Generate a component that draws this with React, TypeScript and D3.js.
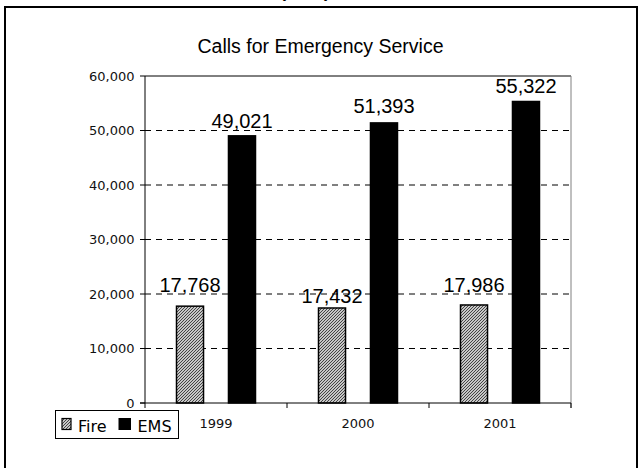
import React from "react";
import * as d3 from "d3";

const years = ["1999", "2000", "2001"];
const seriesNames = ["Fire", "EMS"];
const fireCalls = [17768, 17432, 17986];
const emsCalls = [49021, 51393, 55322];
const yTicks = [0, 10000, 20000, 30000, 40000, 50000, 60000];
const titleText = "Calls for Emergency Service";
const headerText = "(cont)";

// label nudges (px above bar top)
const fireLabelLift = [14, 4.7, 13];
const emsLabelLift = [8.3, 10, 8.4];

const W = 642;
const H = 468;
const plot = { left: 145, right: 571, top: 76, bottom: 403 };

const SANS = "'Liberation Sans', Arial, sans-serif";
const DEJAVU = "'DejaVu Sans', Verdana, sans-serif";

export default function App() {
  const y = d3.scaleLinear().domain([0, 60000]).range([plot.bottom, plot.top]);
  const x0 = d3.scaleBand<string>().domain(years).range([plot.left, plot.right]);
  const x1 = d3
    .scaleBand<string>()
    .domain(seriesNames)
    .range([31.5, 110.5])
    .paddingInner(0.48);
  const fmt = d3.format(",");

  const seriesData = [
    { name: "Fire", values: fireCalls, lift: fireLabelLift },
    { name: "EMS", values: emsCalls, lift: emsLabelLift },
  ];

  const catEdges = [...years.map((yr) => x0(yr)!), plot.right];

  return (
    <svg
      width={W}
      height={H}
      style={{ position: "absolute", left: 0, top: 0, background: "#fff" }}
    >
      <defs>
        <pattern id="hatch" patternUnits="userSpaceOnUse" width={3} height={3}>
          <rect width={3} height={3} fill="#fff" />
          <path
            d="M-1,1 L1,-1 M0,3 L3,0 M2,4 L4,2"
            stroke="#3a3a3a"
            strokeWidth={1.1}
          />
        </pattern>
      </defs>

      <rect x={0} y={0} width={W} height={H} fill="#fff" />

      {/* header remnant (cut off at the top, as in the reference) */}
      <text
        x={305}
        y={-3}
        textAnchor="middle"
        fontFamily={SANS}
        fontSize={18}
        fontWeight="bold"
        fill="#000"
      >
        {headerText}
      </text>

      {/* outer frame */}
      <rect
        x={5}
        y={7}
        width={632}
        height={480}
        fill="none"
        stroke="#000"
        strokeWidth={2}
      />

      {/* title */}
      <text
        x={320.5}
        y={53.3}
        textAnchor="middle"
        fontFamily={SANS}
        fontSize={19.5}
        fill="#000"
      >
        {titleText}
      </text>

      {/* gridlines */}
      {yTicks
        .filter((t) => t > 0 && t < 60000)
        .map((t) => (
          <line
            key={"g" + t}
            x1={plot.left}
            x2={plot.right}
            y1={y(t)}
            y2={y(t)}
            stroke="#000"
            strokeWidth={1}
            strokeDasharray="6,5"
          />
        ))}

      {/* plot frame top & right */}
      <line
        x1={plot.left}
        x2={plot.right}
        y1={plot.top}
        y2={plot.top}
        stroke="#000"
        strokeWidth={1}
      />
      <line
        x1={plot.right}
        x2={plot.right}
        y1={plot.top}
        y2={plot.bottom + 5}
        stroke="#808080"
        strokeWidth={1}
      />

      {/* bars */}
      {seriesData.map((s) =>
        s.values.map((v, i) => {
          const bx = x0(years[i])! + x1(s.name)!;
          const by = y(v);
          return (
            <rect
              key={s.name + i}
              x={bx}
              y={by}
              width={x1.bandwidth()}
              height={plot.bottom - by}
              fill={s.name === "Fire" ? "url(#hatch)" : "#000"}
              stroke="#000"
              strokeWidth={1.5}
            />
          );
        })
      )}

      {/* value labels */}
      {seriesData.map((s) =>
        s.values.map((v, i) => {
          const cx = x0(years[i])! + x1(s.name)! + x1.bandwidth() / 2;
          return (
            <text
              key={"l" + s.name + i}
              x={cx}
              y={y(v) - s.lift[i]}
              textAnchor="middle"
              fontFamily={SANS}
              fontSize={20}
              fill="#000"
            >
              {fmt(v)}
            </text>
          );
        })
      )}

      {/* y axis */}
      <line
        x1={plot.left}
        x2={plot.left}
        y1={plot.top}
        y2={plot.bottom}
        stroke="#000"
        strokeWidth={1}
      />
      {yTicks.map((t) => (
        <g key={"yt" + t}>
          <line
            x1={plot.left - 5}
            x2={plot.left}
            y1={y(t)}
            y2={y(t)}
            stroke="#000"
            strokeWidth={1}
          />
          <text
            x={134.5}
            y={y(t) + 4.8}
            textAnchor="end"
            fontFamily={DEJAVU}
            fontSize={13}
            fill="#111"
          >
            {fmt(t)}
          </text>
        </g>
      ))}

      {/* x axis */}
      <line
        x1={plot.left - 5}
        x2={plot.right}
        y1={plot.bottom}
        y2={plot.bottom}
        stroke="#000"
        strokeWidth={1}
      />
      {catEdges.map((ex, i) => (
        <line
          key={"xt" + i}
          x1={ex}
          x2={ex}
          y1={plot.bottom}
          y2={plot.bottom + 5}
          stroke="#000"
          strokeWidth={1}
        />
      ))}
      {years.map((yr) => (
        <text
          key={"xl" + yr}
          x={x0(yr)! + x0.bandwidth() / 2}
          y={428.3}
          textAnchor="middle"
          fontFamily={DEJAVU}
          fontSize={13}
          fill="#111"
        >
          {yr}
        </text>
      ))}

      {/* legend */}
      <rect
        x={55.5}
        y={410.5}
        width={123}
        height={28}
        fill="#fff"
        stroke="#000"
        strokeWidth={1}
      />
      <rect
        x={62}
        y={418.5}
        width={9}
        height={11}
        fill="url(#hatch)"
        stroke="#000"
        strokeWidth={1.2}
      />
      <text x={78} y={431.7} fontFamily={DEJAVU} fontSize={16} fill="#000">
        {seriesNames[0]}
      </text>
      <rect x={118.5} y={418} width={12.5} height={12} fill="#000" />
      <text x={137.5} y={431.7} fontFamily={DEJAVU} fontSize={16} fill="#000">
        {seriesNames[1]}
      </text>
    </svg>
  );
}
